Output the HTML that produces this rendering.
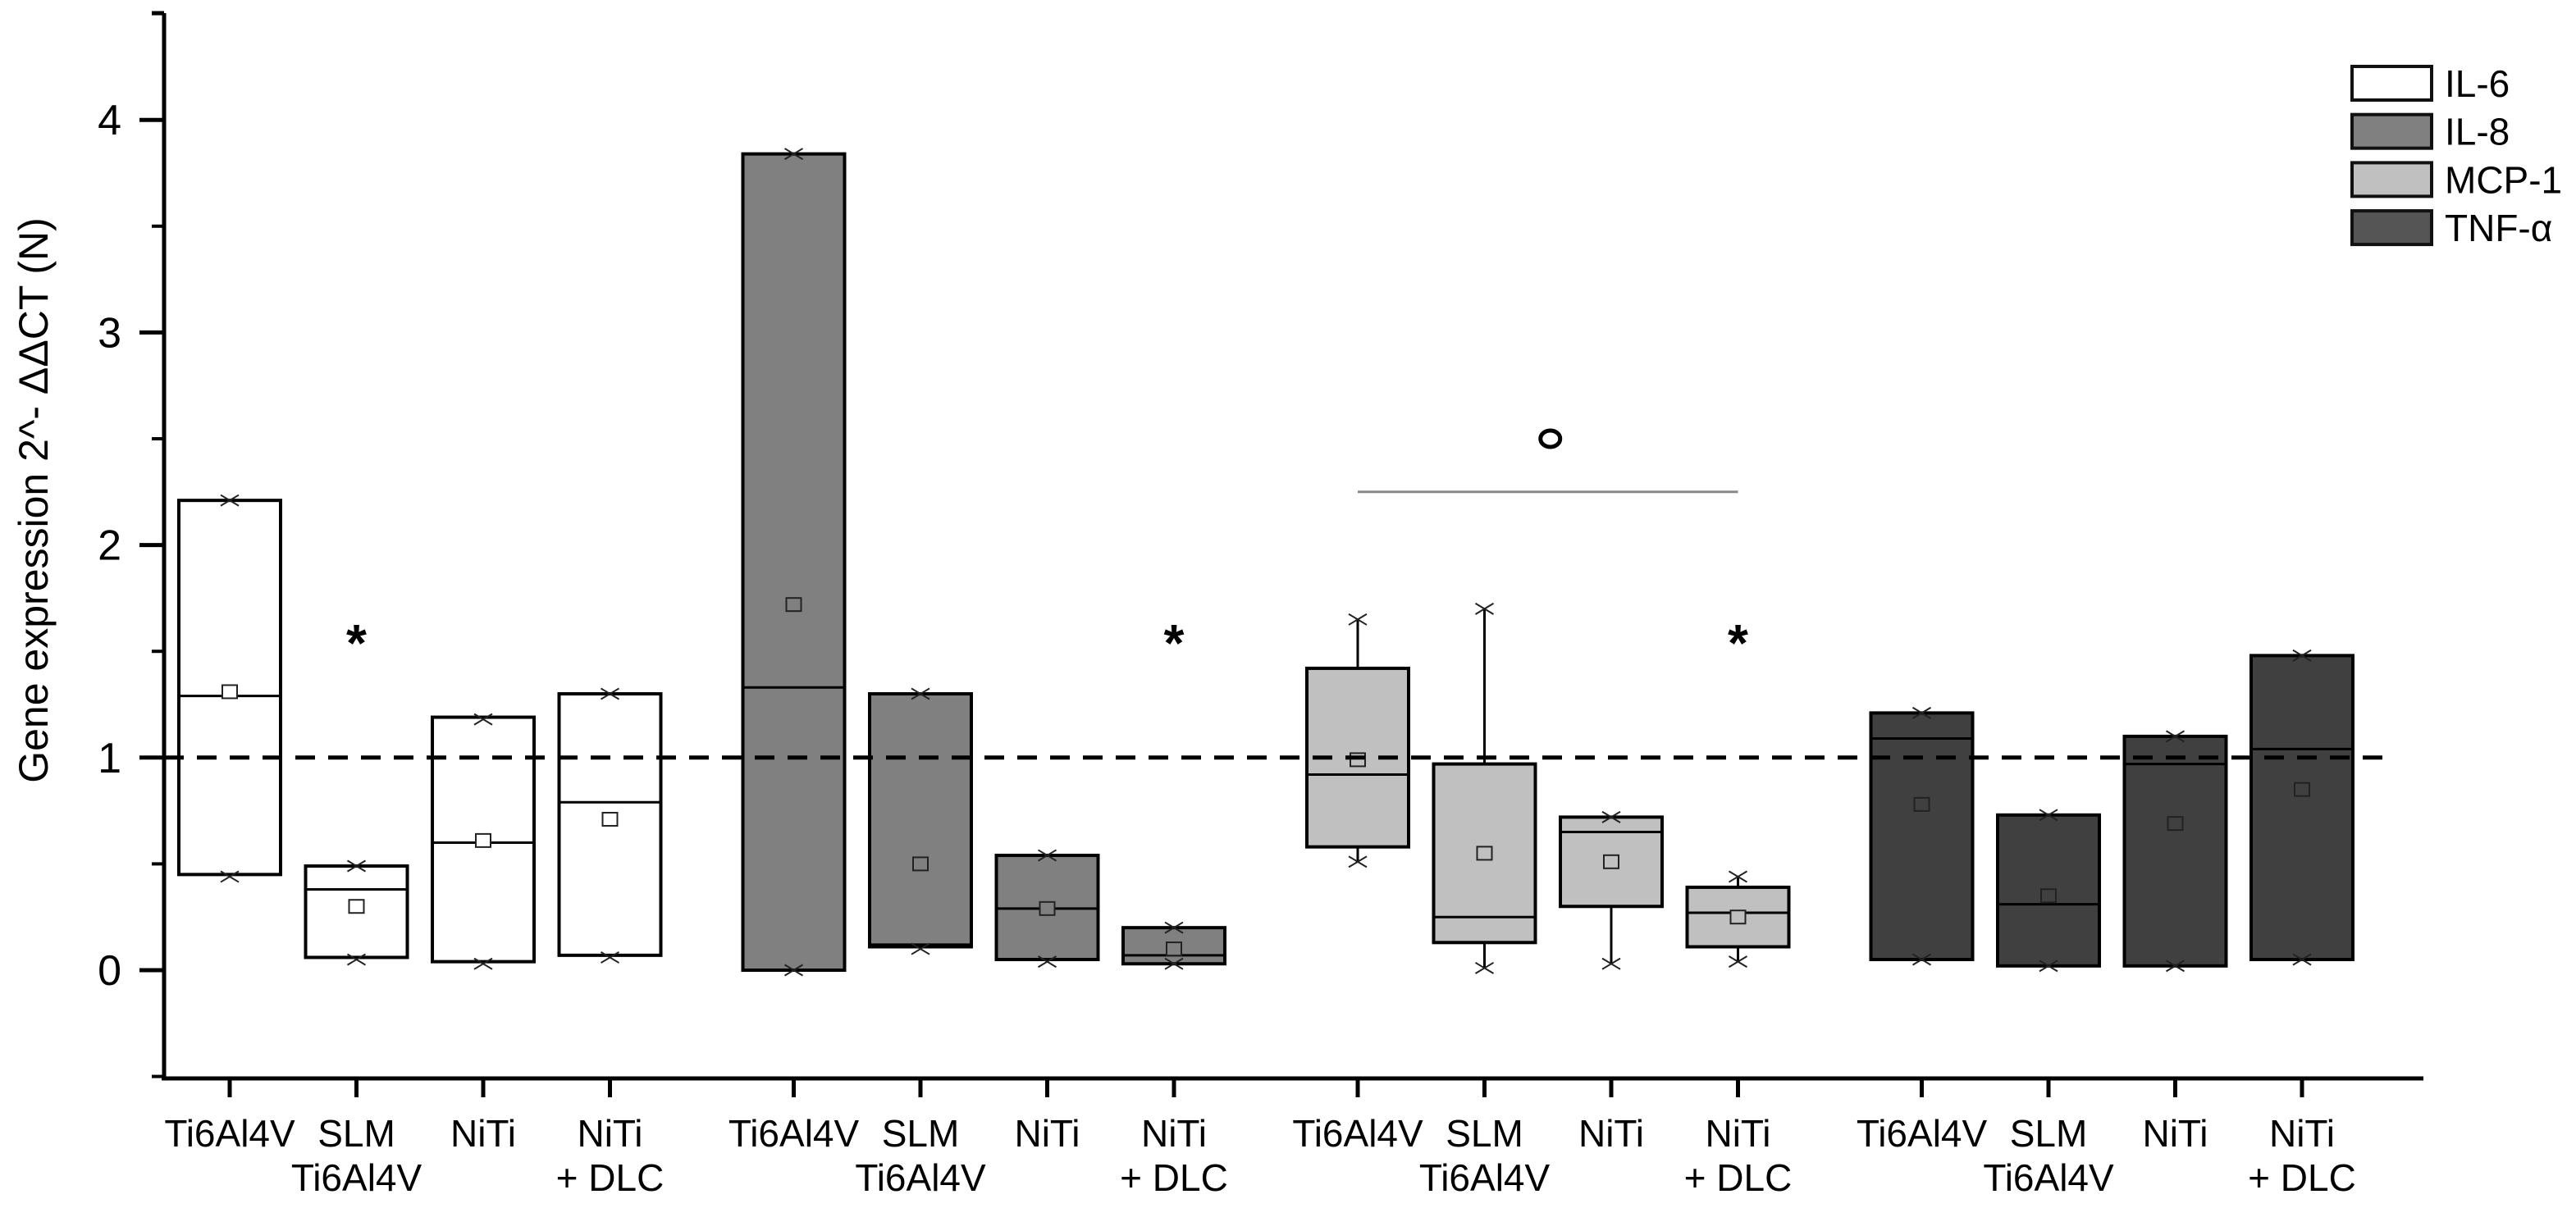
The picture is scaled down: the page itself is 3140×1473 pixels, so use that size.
<!DOCTYPE html>
<html><head><meta charset="utf-8"><style>
html,body{margin:0;padding:0;background:#fff}
svg{display:block}
text{font-family:"Liberation Sans",sans-serif;fill:#000}
</style></head><body>
<svg id="chart" width="3140" height="1473" viewBox="0 0 3140 1473" xmlns="http://www.w3.org/2000/svg">
<g id="plot"></g>
</svg>
<script>
const genes = ["IL-6","IL-8","MCP-1","TNF-α"];
const materials = [["Ti6Al4V"],["SLM","Ti6Al4V"],["NiTi"],["NiTi","+ DLC"]];
const fills = ["#ffffff","#808080","#c0c0c0","#404040"];
const legendFills = ["#ffffff","#808080","#c0c0c0","#555555"];
// per gene, per material: [q1, q3]
const boxLow = [[0.45,0.06,0.04,0.07],[0.0,0.11,0.05,0.03],[0.58,0.13,0.30,0.11],[0.05,0.02,0.02,0.05]];
const boxHigh = [[2.21,0.49,1.19,1.30],[3.84,1.30,0.54,0.20],[1.42,0.97,0.72,0.39],[1.21,0.73,1.10,1.48]];
const medians = [[1.29,0.38,0.60,0.79],[1.33,0.12,0.29,0.07],[0.92,0.25,0.65,0.27],[1.09,0.31,0.97,1.04]];
const means = [[1.31,0.30,0.61,0.71],[1.72,0.50,0.29,0.10],[0.99,0.55,0.51,0.25],[0.78,0.35,0.69,0.85]];
const maxVals = [[2.21,0.49,1.18,1.30],[3.84,1.30,0.54,0.20],[1.65,1.70,0.72,0.44],[1.21,0.73,1.10,1.48]];
const minVals = [[0.44,0.05,0.03,0.06],[0.0,0.10,0.04,0.03],[0.51,0.01,0.03,0.04],[0.05,0.02,0.02,0.05]];
const yTicks = [0,1,2,3,4];
const yMinorTicks = [-0.5,0.5,1.5,2.5,3.5,4.5];
// significance stars: [gene, material, value]
const stars = [[0,1,1.57],[1,3,1.57],[2,3,1.57]];
const bracketVal = 2.25, bracketFrom = [2,0], bracketTo = [2,3], circleVal = 2.5;
const referenceVal = 1;

const NS="http://www.w3.org/2000/svg";
const g=document.getElementById('plot');
const X0=200, Y0=1183, U=259.2;
const y=v=>Y0-v*U;
const x=(gi,mi)=>280+gi*687.5+mi*154.5;
const BW=124;
function el(t,a,p){const e=document.createElementNS(NS,t);for(const k in a)e.setAttribute(k,a[k]);(p||g).appendChild(e);return e;}

// y-axis
let e=el('line',{x1:X0,y1:16,x2:X0,y2:1316,stroke:'#000','stroke-width':5});


el('line',{x1:185,y1:16,x2:X0,y2:16,stroke:'#000','stroke-width':5});
yTicks.forEach(v=>{
  el('line',{x1:170,y1:y(v),x2:X0,y2:y(v),stroke:'#000','stroke-width':5});
  const t=el('text',{x:148,y:y(v)+18,'font-size':52,'text-anchor':'end'});t.textContent=v;
  
  
});
yMinorTicks.forEach(v=>el('line',{x1:185,y1:y(v),x2:X0,y2:y(v),stroke:'#000','stroke-width':4}));
const yt=el('text',{x:0,y:0,'font-size':50,'text-anchor':'middle',transform:'translate(58,610) rotate(-90)'});
yt.textContent='Gene expression 2^- ΔΔCT (N)';


// x-axis
e=el('line',{x1:X0-3,y1:1315,x2:2954,y2:1315,stroke:'#000','stroke-width':5});



function cross(cx,cy,s){el('path',{d:`M${cx-s} ${cy-s*0.6}L${cx+s} ${cy+s*0.6}M${cx-s} ${cy+s*0.6}L${cx+s} ${cy-s*0.6}`,stroke:'#222','stroke-width':2,fill:'none'});}

genes.forEach((gn,gi)=>{
  materials.forEach((m,mi)=>{
    const cx=x(gi,mi);
    el('line',{x1:cx,y1:1315,x2:cx,y2:1338,stroke:'#000','stroke-width':5});
    m.forEach((line,li)=>{
      const t=el('text',{x:cx,y:1398+li*54,'font-size':46,'text-anchor':'middle'});t.textContent=line;
      
      
    });
    if(maxVals[gi][mi]>boxHigh[gi][mi]+0.01) el('line',{x1:cx,y1:y(maxVals[gi][mi]),x2:cx,y2:y(boxHigh[gi][mi]),stroke:'#000','stroke-width':3});
    if(minVals[gi][mi]<boxLow[gi][mi]-0.01) el('line',{x1:cx,y1:y(minVals[gi][mi]),x2:cx,y2:y(boxLow[gi][mi]),stroke:'#000','stroke-width':3});
    const b=el('rect',{x:cx-BW/2,y:y(boxHigh[gi][mi]),width:BW,height:y(boxLow[gi][mi])-y(boxHigh[gi][mi]),fill:fills[gi],stroke:'#000','stroke-width':4});
    
    
    el('line',{x1:cx-BW/2,y1:y(medians[gi][mi]),x2:cx+BW/2,y2:y(medians[gi][mi]),stroke:'#000','stroke-width':3});
    const mk=el('rect',{x:cx-9,y:y(means[gi][mi])-8,width:18,height:16,fill:fills[gi],stroke:'#222','stroke-width':2});
    
    
    cross(cx,y(maxVals[gi][mi]),11);
    cross(cx,y(minVals[gi][mi]),11);
  });
});

// reference dashed line (drawn over boxes)
e=el('line',{x1:X0,y1:y(referenceVal),x2:2906,y2:y(referenceVal),stroke:'#000','stroke-width':5,'stroke-dasharray':'24 16'});



stars.forEach(s=>{
  const t=el('text',{x:x(s[0],s[1]),y:y(s[2])+30,'font-size':64,'font-weight':'bold','text-anchor':'middle'});t.textContent='*';
  
  
});
e=el('line',{x1:x(...bracketFrom),y1:y(bracketVal),x2:x(...bracketTo),y2:y(bracketVal),stroke:'#888','stroke-width':3});


e=el('ellipse',{cx:(x(...bracketFrom)+x(...bracketTo))/2+3,cy:y(circleVal),rx:12,ry:10,fill:'none',stroke:'#000','stroke-width':5});



// legend
genes.forEach((gn,i)=>{
  const yy=81+i*58.7;
  const r=el('rect',{x:2867,y:yy,width:97,height:41,fill:legendFills[i],stroke:'#111','stroke-width':4});
  
  
  const t=el('text',{x:2980,y:yy+37,'font-size':46});t.textContent=gn;
  
  
});
</script>
</body></html>
